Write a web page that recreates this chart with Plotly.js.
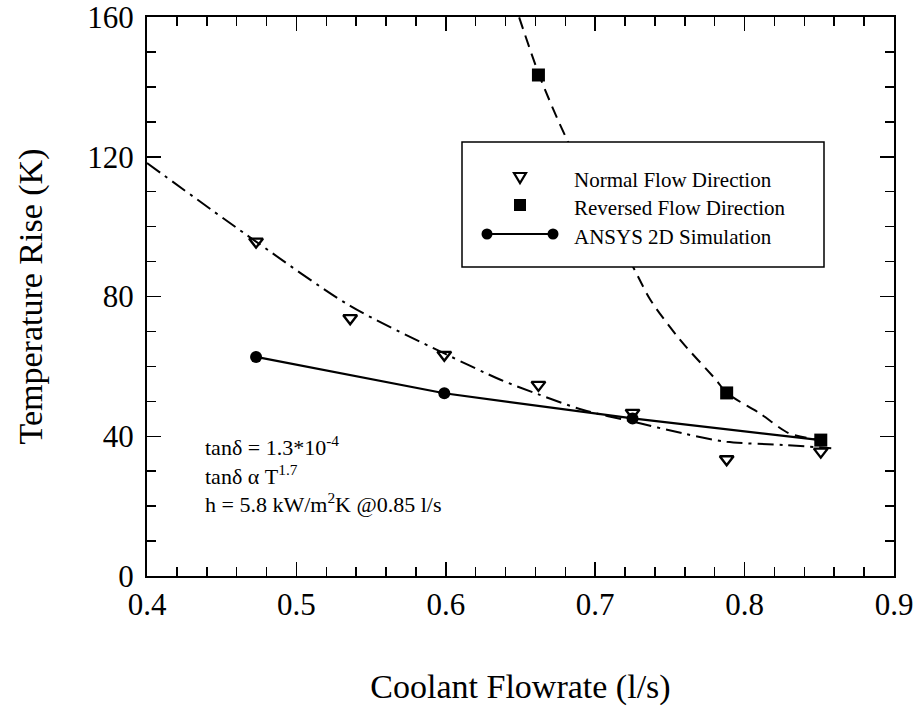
<!DOCTYPE html>
<html>
<head>
<meta charset="utf-8">
<script src="https://cdn.plot.ly/plotly-3.0.1.min.js"></script>
<style>html,body{margin:0;padding:0;background:#fff;}#chart{width:914px;height:706px;}</style>
</head>
<body>
<div id="chart"></div>
<script>
// Measured data points
const normX = [0.473, 0.536, 0.599, 0.662, 0.725, 0.788, 0.851];
const normY = [95.7, 73.8, 63.3, 54.7, 46.7, 33.4, 35.6];
const revX = [0.662, 0.788, 0.851];
const revY = [143.4, 52.4, 38.9];
const ansysX = [0.473, 0.599, 0.725, 0.851];
const ansysY = [62.7, 52.3, 45.1, 38.9];

// Fitted curves
const normFitX = [0.400, 0.473, 0.536, 0.599, 0.637, 0.662, 0.692, 0.725, 0.759, 0.788, 0.826, 0.858];
const normFitY = [118.2, 95.7, 77.3, 63.7, 56.1, 52.0, 47.5, 44.2, 40.8, 38.4, 37.5, 36.6];
const revFitX = [0.645, 0.649, 0.6625, 0.680, 0.727, 0.737, 0.757, 0.781, 0.788, 0.810, 0.830, 0.851];
const revFitY = [165.0, 160.0, 143.4, 125.9, 87.1, 79.0, 67.5, 56.1, 52.4, 46.6, 40.8, 38.9];

// Tick labels
const xTickVals = [0.4, 0.5, 0.6, 0.7, 0.8, 0.9];
const xTickText = ['0.4', '0.5', '0.6', '0.7', '0.8', '0.9'];
const yTickVals = [0, 40, 80, 120, 160];
const yTickText = ['0', '40', '80', '120', '160'];

// Legend labels and note lines
const seriesNames = ['Normal Flow Direction', 'Reversed Flow Direction', 'ANSYS 2D Simulation'];
const noteLines = ['tanδ = 1.3*10<sup>-4</sup>', 'tanδ α T<sup>1.7</sup>', 'h = 5.8 kW/m<sup>2</sup>K @0.85 l/s'];

const SERIF = "'Liberation Serif', 'Times New Roman', serif";

const traces = [
  {x: normFitX, y: normFitY, mode: 'lines', line: {color: '#000', width: 2, dash: '16px,6px,3px,6px', shape: 'spline', smoothing: 0.8}, showlegend: false, hoverinfo: 'skip'},
  {x: revFitX, y: revFitY, mode: 'lines', line: {color: '#000', width: 2, dash: '12px,7px', shape: 'spline', smoothing: 0.8}, showlegend: false, hoverinfo: 'skip'},
  {x: ansysX, y: ansysY, mode: 'lines+markers', name: seriesNames[2], line: {color: '#000', width: 2.2}, marker: {symbol: 'circle', size: 12, color: '#000'}, showlegend: false},
  {x: normX, y: normY, mode: 'markers', name: seriesNames[0], marker: {symbol: 'triangle-down-open', size: 12, color: '#000', line: {width: 2.4, color: '#000'}}, showlegend: false},
  {x: revX, y: revY, mode: 'markers', name: seriesNames[1], marker: {symbol: 'square', size: 13, color: '#000'}, showlegend: false}
];

// Plot area in pixels: left 147, right 894, top 17, bottom 576
const L = 147, R = 894, T = 17, B = 576;
const px = v => (v - L) / (R - L);
const py = v => (B - v) / (B - T);

const shapes = [
  {type: 'rect', xref: 'paper', yref: 'paper', x0: px(462), x1: px(824), y0: py(267), y1: py(142), fillcolor: '#fff', line: {color: '#000', width: 1.5}, layer: 'above'},
  {type: 'path', xref: 'paper', yref: 'paper', xsizemode: 'pixel', ysizemode: 'pixel', xanchor: px(520), yanchor: py(177), path: 'M-6,4 L6,4 L0,-6 Z', fillcolor: 'rgba(0,0,0,0)', line: {color: '#000', width: 2.2}, layer: 'above'},
  {type: 'rect', xref: 'paper', yref: 'paper', xsizemode: 'pixel', ysizemode: 'pixel', xanchor: px(520), yanchor: py(205), x0: -6, x1: 6, y0: -6, y1: 6, fillcolor: '#000', line: {color: '#000', width: 0}, layer: 'above'},
  {type: 'line', xref: 'paper', yref: 'paper', x0: px(487), x1: px(553), y0: py(234), y1: py(234), line: {color: '#000', width: 2}, layer: 'above'},
  {type: 'circle', xref: 'paper', yref: 'paper', xsizemode: 'pixel', ysizemode: 'pixel', xanchor: px(487), yanchor: py(234), x0: -5.5, x1: 5.5, y0: -5.5, y1: 5.5, fillcolor: '#000', line: {color: '#000', width: 0}, layer: 'above'},
  {type: 'circle', xref: 'paper', yref: 'paper', xsizemode: 'pixel', ysizemode: 'pixel', xanchor: px(553), yanchor: py(234), x0: -5.5, x1: 5.5, y0: -5.5, y1: 5.5, fillcolor: '#000', line: {color: '#000', width: 0}, layer: 'above'}
];

const legendRows = [180, 208, 237];
const annotations = [];
seriesNames.forEach((s, i) => annotations.push({
  xref: 'paper', yref: 'paper', x: px(572), y: py(legendRows[i]), xanchor: 'left', yanchor: 'middle',
  text: s, showarrow: false, font: {family: SERIF, size: 21, color: '#000'}
}));
annotations.push({
  xref: 'paper', yref: 'paper', x: px(203), y: py(474), xanchor: 'left', yanchor: 'middle', align: 'left',
  text: noteLines.join('<br>'), showarrow: false, font: {family: SERIF, size: 22, color: '#000'}
});

const layout = {
  width: 914, height: 706,
  margin: {l: L, r: 914 - R, t: T, b: 706 - B, pad: 0},
  paper_bgcolor: '#fff', plot_bgcolor: '#fff',
  font: {family: SERIF, color: '#000', size: 30},
  showlegend: false,
  xaxis: {
    range: [0.4, 0.9], tickvals: xTickVals, ticktext: xTickText,
    ticks: 'inside', ticklen: 14, tickwidth: 1.5, tickcolor: '#000',
    minor: {dtick: 0.02, ticks: 'inside', ticklen: 9, tickwidth: 1.5, tickcolor: '#000'},
    showline: true, linecolor: '#000', linewidth: 2, mirror: 'ticks',
    showgrid: false, zeroline: false, ticklabelstandoff: 0, ticklabeloverflow: 'allow',
    tickfont: {family: SERIF, size: 31, color: '#000'},
    title: {text: 'Coolant Flowrate (l/s)', font: {family: SERIF, size: 34, color: '#000'}, standoff: 56}
  },
  yaxis: {
    range: [0, 160], tickvals: yTickVals, ticktext: yTickText,
    ticks: 'inside', ticklen: 14, tickwidth: 1.5, tickcolor: '#000',
    minor: {dtick: 10, ticks: 'inside', ticklen: 9, tickwidth: 1.5, tickcolor: '#000'},
    showline: true, linecolor: '#000', linewidth: 2, mirror: 'ticks',
    showgrid: false, zeroline: false, ticklabelstandoff: 5, ticklabeloverflow: 'allow',
    tickfont: {family: SERIF, size: 31, color: '#000'},
    title: {text: 'Temperature Rise (K)', font: {family: SERIF, size: 34, color: '#000'}, standoff: 34}
  },
  shapes: shapes,
  annotations: annotations
};

Plotly.newPlot('chart', traces, layout, {staticPlot: true, displayModeBar: false});
</script>
</body>
</html>
